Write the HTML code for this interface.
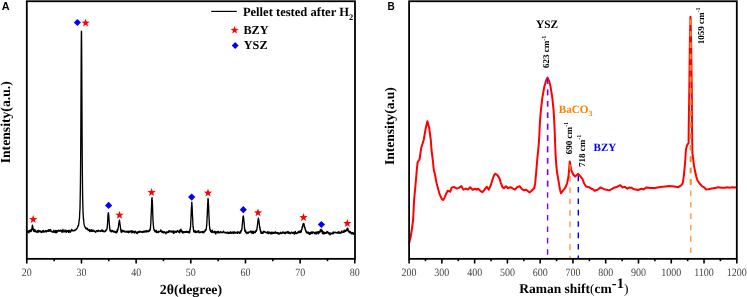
<!DOCTYPE html>
<html><head><meta charset="utf-8"><style>
html,body{margin:0;padding:0;background:#fff;}
body{width:747px;height:297px;overflow:hidden;}
svg{display:block;will-change:transform;}
.serif{font-family:"Liberation Serif",serif;text-rendering:geometricPrecision;}
.sans{font-family:"Liberation Sans",sans-serif;}
</style></head><body>
<svg width="747" height="297" viewBox="0 0 747 297">
<rect width="747" height="297" fill="#fff"/>
<!-- Panel letters -->
<text class="sans" x="1.8" y="9.7" font-size="10.9" font-weight="bold">A</text>
<text class="sans" x="387.6" y="9.8" font-size="10.0" font-weight="bold">B</text>

<!-- ===== Panel A ===== -->
<path d="M27.40 231.34 L27.70 231.24 L28.00 232.25 L28.30 231.92 L28.60 231.07 L28.90 232.85 L29.20 230.47 L29.50 231.65 L29.62 230.93 L29.74 231.14 L29.86 231.46 L29.98 231.15 L30.10 231.39 L30.22 230.08 L30.34 230.07 L30.46 231.33 L30.58 230.36 L30.70 230.30 L30.82 230.00 L30.94 231.59 L31.06 231.21 L31.18 231.54 L31.30 229.95 L31.42 230.29 L31.54 229.31 L31.66 230.07 L31.78 230.07 L31.90 228.01 L32.02 228.84 L32.14 227.85 L32.26 226.57 L32.38 225.08 L32.50 225.90 L32.62 227.08 L32.74 226.57 L32.86 226.82 L32.98 228.05 L33.10 228.68 L33.22 229.89 L33.34 228.85 L33.46 230.52 L33.58 231.02 L33.70 231.20 L33.82 230.35 L33.94 230.11 L34.06 231.24 L34.18 230.76 L34.30 230.81 L34.42 231.63 L34.54 230.65 L34.66 229.46 L34.78 230.64 L34.90 229.78 L35.02 231.41 L35.14 231.14 L35.26 230.60 L35.38 230.99 L35.50 231.51 L35.62 231.08 L35.92 231.88 L36.22 231.12 L36.52 231.85 L36.82 232.20 L37.12 232.35 L37.42 231.05 L37.72 232.06 L38.02 230.47 L38.32 230.91 L38.62 230.35 L38.92 232.14 L39.22 230.73 L39.52 231.42 L39.82 231.28 L40.12 231.37 L40.42 231.07 L40.72 231.60 L41.02 232.57 L41.32 231.55 L41.62 231.88 L41.92 232.20 L42.22 231.46 L42.52 230.78 L42.82 231.16 L43.12 232.10 L43.42 230.43 L43.72 231.02 L44.02 231.94 L44.32 231.82 L44.62 231.36 L44.92 231.85 L45.22 231.47 L45.52 230.68 L45.82 230.45 L46.12 231.01 L46.42 231.94 L46.72 231.03 L47.02 230.82 L47.32 230.89 L47.62 230.42 L47.92 231.26 L48.22 230.55 L48.52 231.38 L48.82 229.65 L49.12 231.17 L49.42 230.49 L49.72 229.61 L50.02 231.13 L50.32 230.66 L50.62 229.63 L50.92 230.57 L51.22 231.40 L51.52 231.09 L51.82 231.96 L52.12 232.02 L52.42 231.95 L52.72 231.73 L53.02 232.31 L53.32 231.89 L53.62 231.75 L53.92 230.21 L54.22 231.99 L54.52 232.24 L54.82 231.27 L55.12 231.17 L55.42 232.62 L55.72 230.40 L56.02 231.72 L56.32 232.78 L56.62 230.65 L56.92 231.51 L57.22 232.11 L57.52 230.79 L57.82 231.08 L58.12 231.22 L58.42 230.13 L58.72 230.62 L59.02 230.84 L59.32 231.16 L59.62 230.63 L59.92 230.53 L60.22 230.07 L60.52 230.51 L60.82 231.30 L61.12 230.87 L61.42 230.34 L61.72 230.39 L62.02 232.53 L62.32 231.64 L62.62 231.35 L62.92 229.43 L63.22 231.38 L63.52 231.31 L63.82 232.05 L64.12 231.32 L64.42 231.06 L64.72 231.45 L65.02 230.00 L65.32 231.82 L65.62 231.43 L65.92 230.85 L66.22 232.05 L66.52 232.32 L66.82 230.36 L67.12 230.77 L67.42 231.32 L67.72 231.22 L68.02 230.84 L68.32 230.52 L68.62 232.39 L68.92 231.75 L69.22 230.42 L69.52 230.34 L69.82 232.18 L70.12 231.72 L70.42 232.14 L70.72 231.44 L71.02 230.34 L71.32 230.93 L71.62 229.38 L71.92 230.13 L72.22 230.52 L72.52 230.87 L72.82 230.12 L73.12 230.47 L73.42 230.80 L73.72 230.73 L74.02 230.85 L74.32 230.51 L74.62 230.09 L74.92 230.64 L75.22 230.06 L75.52 229.38 L75.82 229.32 L76.12 229.46 L76.42 229.09 L76.72 228.89 L77.02 228.38 L77.32 227.98 L77.62 227.20 L77.92 225.78 L78.22 226.00 L78.52 225.37 L78.64 224.50 L78.76 223.55 L78.88 223.28 L79.00 221.69 L79.12 220.27 L79.24 220.44 L79.36 218.67 L79.48 218.28 L79.60 215.52 L79.72 212.57 L79.84 210.99 L79.96 209.36 L80.08 203.98 L80.20 197.89 L80.32 191.04 L80.44 182.40 L80.56 170.23 L80.68 154.68 L80.80 136.62 L80.92 113.90 L81.04 88.70 L81.16 64.05 L81.28 43.51 L81.40 31.12 L81.52 32.28 L81.64 44.83 L81.76 67.52 L81.88 93.21 L82.00 117.01 L82.12 139.54 L82.24 157.51 L82.36 172.48 L82.48 183.46 L82.60 194.12 L82.72 200.22 L82.84 204.59 L82.96 208.81 L83.08 213.45 L83.20 214.19 L83.32 216.95 L83.44 218.69 L83.56 219.52 L83.68 220.02 L83.80 221.88 L83.92 222.89 L84.04 224.13 L84.16 224.57 L84.28 224.68 L84.40 225.68 L84.52 225.94 L84.82 226.64 L85.12 227.24 L85.42 227.58 L85.72 228.54 L86.02 227.81 L86.32 228.39 L86.62 229.05 L86.92 228.40 L87.22 229.21 L87.52 228.44 L87.82 229.38 L88.12 230.27 L88.42 230.40 L88.72 230.15 L89.02 230.16 L89.32 229.55 L89.62 231.59 L89.92 230.89 L90.22 231.31 L90.52 230.19 L90.82 230.67 L91.12 229.74 L91.42 231.35 L91.72 231.50 L92.02 229.84 L92.32 231.02 L92.62 231.50 L92.92 230.13 L93.22 230.15 L93.52 230.67 L93.82 230.99 L94.12 230.56 L94.42 231.42 L94.72 231.55 L95.02 231.78 L95.32 231.81 L95.62 232.29 L95.92 232.08 L96.22 230.57 L96.52 231.03 L96.82 230.67 L97.12 230.64 L97.42 231.21 L97.72 231.23 L98.02 231.49 L98.32 230.23 L98.62 230.42 L98.92 231.12 L99.22 231.00 L99.52 230.91 L99.82 231.03 L100.12 230.61 L100.42 231.51 L100.72 231.33 L101.02 231.09 L101.32 230.76 L101.62 231.08 L101.92 229.57 L102.22 230.69 L102.52 231.39 L102.82 230.54 L103.12 231.65 L103.42 231.70 L103.72 230.86 L104.02 231.59 L104.32 231.42 L104.62 231.74 L104.92 231.68 L105.22 231.13 L105.52 230.46 L105.64 230.80 L105.76 230.76 L105.88 231.14 L106.00 230.77 L106.12 230.11 L106.24 229.65 L106.36 230.13 L106.48 229.75 L106.60 229.31 L106.72 229.60 L106.84 228.95 L106.96 228.74 L107.08 228.24 L107.20 226.71 L107.32 227.16 L107.44 224.14 L107.56 223.33 L107.68 220.89 L107.80 219.52 L107.92 215.46 L108.04 214.60 L108.16 213.67 L108.28 212.86 L108.40 212.80 L108.52 213.91 L108.64 213.73 L108.76 215.84 L108.88 217.39 L109.00 219.50 L109.12 221.23 L109.24 222.71 L109.36 224.80 L109.48 225.31 L109.60 227.89 L109.72 227.56 L109.84 229.10 L109.96 230.82 L110.08 229.83 L110.20 230.27 L110.32 231.16 L110.44 230.62 L110.56 230.21 L110.68 230.91 L110.80 231.15 L110.92 231.25 L111.04 230.38 L111.16 231.90 L111.28 231.84 L111.40 230.85 L111.52 230.99 L111.82 230.54 L112.12 231.67 L112.42 230.51 L112.72 231.45 L113.02 230.86 L113.32 230.84 L113.62 231.78 L113.92 232.24 L114.22 231.51 L114.52 231.18 L114.82 232.13 L115.12 231.68 L115.42 231.95 L115.72 232.72 L116.02 232.52 L116.32 231.32 L116.62 232.77 L116.74 231.31 L116.86 231.68 L116.98 230.71 L117.10 230.95 L117.22 229.78 L117.34 231.75 L117.46 231.30 L117.58 229.52 L117.70 229.07 L117.82 228.64 L117.94 229.89 L118.06 228.43 L118.18 228.13 L118.30 227.33 L118.42 226.68 L118.54 225.24 L118.66 224.96 L118.78 223.09 L118.90 222.92 L119.02 222.24 L119.14 221.59 L119.26 220.66 L119.38 220.07 L119.50 220.86 L119.62 220.95 L119.74 222.94 L119.86 223.40 L119.98 223.91 L120.10 224.74 L120.22 225.61 L120.34 226.41 L120.46 227.61 L120.58 228.73 L120.70 229.47 L120.82 230.01 L120.94 231.33 L121.06 229.97 L121.18 230.64 L121.30 232.49 L121.42 229.84 L121.54 230.75 L121.66 231.25 L121.78 231.31 L121.90 231.51 L122.02 231.17 L122.14 231.55 L122.26 231.37 L122.38 231.81 L122.50 230.22 L122.80 230.83 L123.10 231.36 L123.40 230.73 L123.70 230.71 L124.00 231.70 L124.30 231.02 L124.60 231.87 L124.90 232.02 L125.20 231.83 L125.50 232.03 L125.80 231.74 L126.10 231.01 L126.40 231.81 L126.70 232.08 L127.00 231.47 L127.30 231.70 L127.60 232.18 L127.90 231.18 L128.20 232.04 L128.50 232.70 L128.80 231.18 L129.10 231.54 L129.40 231.29 L129.70 232.23 L130.00 231.43 L130.30 231.90 L130.60 231.07 L130.90 231.60 L131.20 231.73 L131.50 230.79 L131.80 232.84 L132.10 232.60 L132.40 231.00 L132.70 232.49 L133.00 231.96 L133.30 232.30 L133.60 232.25 L133.90 231.12 L134.20 231.90 L134.50 232.94 L134.80 231.72 L135.10 231.46 L135.40 231.28 L135.70 231.38 L136.00 232.33 L136.30 233.17 L136.60 232.44 L136.90 232.35 L137.20 233.57 L137.50 231.95 L137.80 231.88 L138.10 232.60 L138.40 232.56 L138.70 231.57 L139.00 231.42 L139.30 232.24 L139.60 232.15 L139.90 231.16 L140.20 231.80 L140.50 231.58 L140.80 232.17 L141.10 231.81 L141.40 231.81 L141.70 231.64 L142.00 232.47 L142.30 232.59 L142.60 231.46 L142.90 232.11 L143.20 231.07 L143.50 231.49 L143.80 231.81 L144.10 232.25 L144.40 231.20 L144.70 231.48 L145.00 231.73 L145.30 230.80 L145.60 231.80 L145.90 231.47 L146.20 232.07 L146.50 231.08 L146.80 230.48 L147.10 231.59 L147.40 231.62 L147.70 231.02 L148.00 231.76 L148.30 231.00 L148.60 230.72 L148.90 231.25 L149.20 229.87 L149.32 230.33 L149.44 230.63 L149.56 231.04 L149.68 230.29 L149.80 230.40 L149.92 229.58 L150.04 229.84 L150.16 230.21 L150.28 228.21 L150.40 229.25 L150.52 226.41 L150.64 225.47 L150.76 223.88 L150.88 222.32 L151.00 218.50 L151.12 215.13 L151.24 213.59 L151.36 210.32 L151.48 206.79 L151.60 204.74 L151.72 200.48 L151.84 198.47 L151.96 197.88 L152.08 197.74 L152.20 199.88 L152.32 200.46 L152.44 203.95 L152.56 205.44 L152.68 211.42 L152.80 214.02 L152.92 217.86 L153.04 221.32 L153.16 222.35 L153.28 224.13 L153.40 225.53 L153.52 226.55 L153.64 227.61 L153.76 229.08 L153.88 229.25 L154.00 229.66 L154.12 229.82 L154.24 230.70 L154.36 230.63 L154.48 230.39 L154.60 230.99 L154.72 230.60 L154.84 230.09 L154.96 231.73 L155.08 231.21 L155.38 230.51 L155.68 231.85 L155.98 231.51 L156.28 230.52 L156.58 232.57 L156.88 231.94 L157.18 232.41 L157.48 232.12 L157.78 232.04 L158.08 231.24 L158.38 232.60 L158.68 231.88 L158.98 231.53 L159.28 231.75 L159.58 231.43 L159.88 231.63 L160.18 230.96 L160.48 231.20 L160.78 229.97 L161.08 231.04 L161.38 231.74 L161.68 232.17 L161.98 231.19 L162.28 231.43 L162.58 232.54 L162.88 231.49 L163.18 232.22 L163.48 232.88 L163.78 231.99 L164.08 232.79 L164.38 231.70 L164.68 232.32 L164.98 232.21 L165.28 232.39 L165.58 233.07 L165.88 233.89 L166.18 232.06 L166.48 232.07 L166.78 232.67 L167.08 231.70 L167.38 232.59 L167.68 232.59 L167.98 232.04 L168.28 232.40 L168.58 231.02 L168.88 232.28 L169.18 230.77 L169.48 231.15 L169.78 231.11 L170.08 231.10 L170.38 231.82 L170.68 231.33 L170.98 231.01 L171.28 231.54 L171.58 232.13 L171.88 231.16 L172.18 231.45 L172.48 232.13 L172.78 231.70 L173.08 230.92 L173.38 233.34 L173.68 233.32 L173.98 230.95 L174.28 232.08 L174.58 232.29 L174.88 232.57 L175.18 232.33 L175.48 231.71 L175.78 231.18 L176.08 231.82 L176.38 232.36 L176.68 231.06 L176.98 231.07 L177.28 231.65 L177.58 230.47 L177.88 231.45 L178.18 231.39 L178.30 231.95 L178.42 231.29 L178.54 231.22 L178.66 231.53 L178.78 231.76 L178.90 231.41 L179.02 231.82 L179.14 232.26 L179.26 232.51 L179.38 232.79 L179.50 231.26 L179.62 231.42 L179.74 230.12 L179.86 232.67 L179.98 231.00 L180.10 231.27 L180.22 231.45 L180.34 230.17 L180.46 231.12 L180.58 230.69 L180.70 229.50 L180.82 230.69 L180.94 231.19 L181.06 229.35 L181.18 231.00 L181.30 230.73 L181.42 231.00 L181.54 231.12 L181.66 231.79 L181.78 231.03 L181.90 231.85 L182.02 231.22 L182.14 232.02 L182.26 231.20 L182.38 231.72 L182.50 232.90 L182.62 232.19 L182.74 231.88 L182.86 231.32 L182.98 231.56 L183.10 232.16 L183.22 232.62 L183.34 232.31 L183.46 232.37 L183.58 232.02 L183.70 232.85 L183.82 231.79 L183.94 231.68 L184.06 232.54 L184.36 232.05 L184.66 231.85 L184.96 231.67 L185.26 231.87 L185.56 232.39 L185.86 232.22 L186.16 231.27 L186.46 232.25 L186.76 232.08 L187.06 231.36 L187.36 232.40 L187.66 231.73 L187.96 231.65 L188.26 232.31 L188.56 232.60 L188.86 231.34 L188.98 231.98 L189.10 231.15 L189.22 233.00 L189.34 231.25 L189.46 232.17 L189.58 230.94 L189.70 231.64 L189.82 232.25 L189.94 229.07 L190.06 229.87 L190.18 229.79 L190.30 228.58 L190.42 227.14 L190.54 227.44 L190.66 224.48 L190.78 221.39 L190.90 220.51 L191.02 216.29 L191.14 215.15 L191.26 211.17 L191.38 208.78 L191.50 206.98 L191.62 204.42 L191.74 202.49 L191.86 202.29 L191.98 205.00 L192.10 206.58 L192.22 208.10 L192.34 211.91 L192.46 214.60 L192.58 217.54 L192.70 218.44 L192.82 221.98 L192.94 224.74 L193.06 226.33 L193.18 227.79 L193.30 226.86 L193.42 229.26 L193.54 230.08 L193.66 231.78 L193.78 230.03 L193.90 230.66 L194.02 231.07 L194.14 231.73 L194.26 231.05 L194.38 232.11 L194.50 231.03 L194.62 231.73 L194.74 231.31 L194.86 231.78 L195.16 231.37 L195.46 230.92 L195.76 232.60 L196.06 232.15 L196.36 231.57 L196.66 231.95 L196.96 232.34 L197.26 231.07 L197.56 231.50 L197.86 231.79 L198.16 231.83 L198.46 231.47 L198.76 230.57 L199.06 232.73 L199.36 232.34 L199.66 232.30 L199.96 232.28 L200.26 232.60 L200.56 232.17 L200.86 231.79 L201.16 231.94 L201.46 231.99 L201.76 231.96 L202.06 231.59 L202.36 232.63 L202.66 231.42 L202.96 232.55 L203.26 231.49 L203.56 232.24 L203.86 232.78 L204.16 231.93 L204.46 231.16 L204.76 231.39 L205.06 231.17 L205.36 229.72 L205.48 230.23 L205.60 230.52 L205.72 229.92 L205.84 229.99 L205.96 230.06 L206.08 229.73 L206.20 229.37 L206.32 228.59 L206.44 227.30 L206.56 226.47 L206.68 225.06 L206.80 223.48 L206.92 221.69 L207.04 218.57 L207.16 216.91 L207.28 214.35 L207.40 210.86 L207.52 208.47 L207.64 205.95 L207.76 203.01 L207.88 202.37 L208.00 198.34 L208.12 199.49 L208.24 199.19 L208.36 202.43 L208.48 205.69 L208.60 205.32 L208.72 209.87 L208.84 213.12 L208.96 215.56 L209.08 218.81 L209.20 219.59 L209.32 223.59 L209.44 225.13 L209.56 226.43 L209.68 227.29 L209.80 229.00 L209.92 229.10 L210.04 230.09 L210.16 230.02 L210.28 229.25 L210.40 230.77 L210.52 231.05 L210.64 231.48 L210.76 230.57 L210.88 231.12 L211.00 231.54 L211.12 231.27 L211.42 231.94 L211.72 232.36 L212.02 230.59 L212.32 230.14 L212.62 231.95 L212.92 232.49 L213.22 232.25 L213.52 232.31 L213.82 231.57 L214.12 231.61 L214.42 232.66 L214.72 231.66 L215.02 231.20 L215.32 231.77 L215.62 233.95 L215.92 233.68 L216.22 232.05 L216.52 231.92 L216.82 232.38 L217.12 231.68 L217.42 232.80 L217.72 231.85 L218.02 231.15 L218.32 232.75 L218.62 231.77 L218.92 232.42 L219.22 232.43 L219.52 232.41 L219.82 232.95 L220.12 232.42 L220.42 231.68 L220.72 231.41 L221.02 231.92 L221.32 232.17 L221.62 232.56 L221.92 232.56 L222.22 232.82 L222.52 232.53 L222.82 231.94 L223.12 231.96 L223.42 231.08 L223.72 232.22 L224.02 232.58 L224.32 232.63 L224.62 232.27 L224.92 232.27 L225.22 232.96 L225.52 232.44 L225.82 232.90 L226.12 232.83 L226.42 232.62 L226.72 233.30 L227.02 232.19 L227.32 232.34 L227.62 232.09 L227.92 232.11 L228.22 233.51 L228.52 233.61 L228.82 232.54 L229.12 232.84 L229.42 233.18 L229.72 232.93 L230.02 233.15 L230.32 231.72 L230.62 232.15 L230.92 232.86 L231.22 233.50 L231.52 232.76 L231.82 232.24 L232.12 232.53 L232.42 232.26 L232.72 232.04 L233.02 233.36 L233.32 231.99 L233.62 232.28 L233.92 233.47 L234.22 232.87 L234.52 232.37 L234.82 231.81 L235.12 232.43 L235.42 233.17 L235.72 232.58 L236.02 232.98 L236.32 232.35 L236.62 232.67 L236.92 232.31 L237.22 232.75 L237.52 233.34 L237.82 231.76 L238.12 232.59 L238.42 232.70 L238.72 232.14 L239.02 232.22 L239.32 232.79 L239.62 233.42 L239.92 232.49 L240.22 232.18 L240.52 230.90 L240.64 232.92 L240.76 231.72 L240.88 231.55 L241.00 230.77 L241.12 231.25 L241.24 230.42 L241.36 230.86 L241.48 230.77 L241.60 230.08 L241.72 229.70 L241.84 228.36 L241.96 228.93 L242.08 226.75 L242.20 224.99 L242.32 224.76 L242.44 223.08 L242.56 221.51 L242.68 220.44 L242.80 219.40 L242.92 217.23 L243.04 216.80 L243.16 217.03 L243.28 216.30 L243.40 216.00 L243.52 216.82 L243.64 217.70 L243.76 219.05 L243.88 220.98 L244.00 222.02 L244.12 222.13 L244.24 224.98 L244.36 225.77 L244.48 227.85 L244.60 228.10 L244.72 229.41 L244.84 231.32 L244.96 229.95 L245.08 230.36 L245.20 230.54 L245.32 230.22 L245.44 230.74 L245.56 232.25 L245.68 231.78 L245.80 231.15 L245.92 231.46 L246.04 232.78 L246.16 231.95 L246.28 232.20 L246.40 232.61 L246.70 233.20 L247.00 233.51 L247.30 232.91 L247.60 232.31 L247.90 232.26 L248.20 233.19 L248.50 232.94 L248.80 231.86 L249.10 232.28 L249.40 232.14 L249.70 231.96 L250.00 231.59 L250.30 231.16 L250.60 231.71 L250.90 231.17 L251.20 232.89 L251.50 232.54 L251.80 231.56 L252.10 233.16 L252.40 232.85 L252.70 231.16 L253.00 233.39 L253.30 232.76 L253.60 233.49 L253.90 231.48 L254.20 232.50 L254.50 232.39 L254.80 232.20 L255.10 232.10 L255.40 232.51 L255.52 230.92 L255.64 231.00 L255.76 230.81 L255.88 231.20 L256.00 231.02 L256.12 231.47 L256.24 231.22 L256.36 230.83 L256.48 230.10 L256.60 229.87 L256.72 230.25 L256.84 229.59 L256.96 228.55 L257.08 227.56 L257.20 227.86 L257.32 225.67 L257.44 225.45 L257.56 224.75 L257.68 222.88 L257.80 222.55 L257.92 220.47 L258.04 220.93 L258.16 219.75 L258.28 218.22 L258.40 219.70 L258.52 219.48 L258.64 218.90 L258.76 220.79 L258.88 220.39 L259.00 221.60 L259.12 222.84 L259.24 223.48 L259.36 224.83 L259.48 225.29 L259.60 226.91 L259.72 227.32 L259.84 228.17 L259.96 227.02 L260.08 229.96 L260.20 229.83 L260.32 229.21 L260.44 230.72 L260.56 231.27 L260.68 231.91 L260.80 230.85 L260.92 232.62 L261.04 231.76 L261.16 233.43 L261.28 232.03 L261.40 232.63 L261.70 232.24 L262.00 231.99 L262.30 233.24 L262.60 233.04 L262.90 233.33 L263.20 232.82 L263.50 231.85 L263.80 231.09 L264.10 231.64 L264.40 231.66 L264.70 231.62 L265.00 232.50 L265.30 232.38 L265.60 232.06 L265.90 232.36 L266.20 232.24 L266.50 232.54 L266.80 232.94 L267.10 233.15 L267.40 232.24 L267.70 231.83 L268.00 233.67 L268.30 232.92 L268.60 233.54 L268.90 231.92 L269.20 232.74 L269.50 232.99 L269.80 232.14 L270.10 232.71 L270.40 233.44 L270.70 233.64 L271.00 233.94 L271.30 232.46 L271.60 232.12 L271.90 233.27 L272.20 233.50 L272.50 233.03 L272.80 232.10 L273.10 233.33 L273.40 233.31 L273.70 233.14 L274.00 232.50 L274.30 232.96 L274.60 233.25 L274.90 232.43 L275.20 231.65 L275.50 232.95 L275.80 233.03 L276.10 232.74 L276.40 233.27 L276.70 232.39 L277.00 232.69 L277.30 232.56 L277.60 233.09 L277.90 233.71 L278.20 232.62 L278.50 234.03 L278.80 233.73 L279.10 233.32 L279.40 233.22 L279.70 233.95 L280.00 232.81 L280.30 232.81 L280.60 232.20 L280.90 233.08 L281.20 233.57 L281.50 233.05 L281.80 232.94 L282.10 232.55 L282.40 232.80 L282.70 231.87 L283.00 233.38 L283.30 232.53 L283.60 232.14 L283.90 232.37 L284.20 232.35 L284.50 233.37 L284.80 233.51 L285.10 232.08 L285.40 233.47 L285.70 233.46 L286.00 232.60 L286.30 232.02 L286.60 232.44 L286.90 232.48 L287.20 233.03 L287.50 232.59 L287.80 231.55 L288.10 232.91 L288.40 231.89 L288.70 233.39 L289.00 232.16 L289.30 232.51 L289.60 232.46 L289.90 232.68 L290.20 233.79 L290.50 233.52 L290.80 233.36 L291.10 233.18 L291.40 232.05 L291.70 232.65 L292.00 232.62 L292.30 232.44 L292.60 233.41 L292.90 232.73 L293.20 232.82 L293.50 232.70 L293.80 232.16 L294.10 233.77 L294.40 234.12 L294.70 233.34 L295.00 232.55 L295.30 231.42 L295.60 233.06 L295.90 233.59 L296.20 232.97 L296.50 233.30 L296.80 233.58 L297.10 233.32 L297.40 232.33 L297.70 233.17 L298.00 232.94 L298.30 231.54 L298.60 232.19 L298.90 231.55 L299.20 232.29 L299.50 232.65 L299.80 231.57 L300.10 230.85 L300.40 232.67 L300.70 231.83 L300.82 232.33 L300.94 230.47 L301.06 231.69 L301.18 232.06 L301.30 231.75 L301.42 230.12 L301.54 230.07 L301.66 229.45 L301.78 229.74 L301.90 229.33 L302.02 228.30 L302.14 226.96 L302.26 227.73 L302.38 226.51 L302.50 226.66 L302.62 225.95 L302.74 226.30 L302.86 225.57 L302.98 224.22 L303.10 224.38 L303.22 224.97 L303.34 223.43 L303.46 223.95 L303.58 224.44 L303.70 224.62 L303.82 224.41 L303.94 223.62 L304.06 224.03 L304.18 225.33 L304.30 225.86 L304.42 227.64 L304.54 226.08 L304.66 227.78 L304.78 228.05 L304.90 227.06 L305.02 228.03 L305.14 229.06 L305.26 229.07 L305.38 229.65 L305.50 230.36 L305.62 229.90 L305.74 230.94 L305.86 230.52 L305.98 230.78 L306.10 231.65 L306.22 231.18 L306.34 231.86 L306.46 232.80 L306.58 231.99 L306.88 232.14 L307.18 232.85 L307.48 232.32 L307.78 233.30 L308.08 231.98 L308.38 233.23 L308.68 232.66 L308.98 232.59 L309.28 234.23 L309.58 232.76 L309.88 234.41 L310.18 233.66 L310.48 233.92 L310.78 232.24 L311.08 233.33 L311.38 233.26 L311.68 232.09 L311.98 231.86 L312.28 233.48 L312.58 232.19 L312.88 231.91 L313.18 231.87 L313.48 232.59 L313.78 232.60 L314.08 232.59 L314.38 233.59 L314.68 232.44 L314.98 232.99 L315.28 233.65 L315.58 232.25 L315.88 233.55 L316.18 234.05 L316.48 232.15 L316.78 232.31 L317.08 232.34 L317.38 231.86 L317.68 233.23 L317.98 231.83 L318.28 233.20 L318.40 233.75 L318.52 231.87 L318.64 232.61 L318.76 231.61 L318.88 233.17 L319.00 232.19 L319.12 232.39 L319.24 232.48 L319.36 232.67 L319.48 232.00 L319.60 232.07 L319.72 231.58 L319.84 231.80 L319.96 230.84 L320.08 231.38 L320.20 229.97 L320.32 230.63 L320.44 231.87 L320.56 230.59 L320.68 229.63 L320.80 230.43 L320.92 229.62 L321.04 229.19 L321.16 229.77 L321.28 230.73 L321.40 230.63 L321.52 230.49 L321.64 230.16 L321.76 230.24 L321.88 231.89 L322.00 231.40 L322.12 230.90 L322.24 230.41 L322.36 231.04 L322.48 233.52 L322.60 231.50 L322.72 232.28 L322.84 232.58 L322.96 232.46 L323.08 232.48 L323.20 231.91 L323.32 232.18 L323.44 233.88 L323.56 232.47 L323.68 233.48 L323.80 232.00 L323.92 232.89 L324.04 233.24 L324.34 233.71 L324.64 232.42 L324.94 233.44 L325.24 233.31 L325.54 232.62 L325.84 233.34 L326.14 232.49 L326.44 232.52 L326.74 232.95 L327.04 231.29 L327.34 232.82 L327.64 232.25 L327.94 231.93 L328.24 232.67 L328.54 233.54 L328.84 233.00 L329.14 234.16 L329.44 232.86 L329.74 232.93 L330.04 234.77 L330.34 233.97 L330.64 234.19 L330.94 233.02 L331.24 233.89 L331.54 233.46 L331.84 233.58 L332.14 233.13 L332.44 233.79 L332.74 232.63 L333.04 232.40 L333.34 232.04 L333.64 233.58 L333.94 232.39 L334.24 232.22 L334.54 232.31 L334.84 232.63 L335.14 232.15 L335.44 232.77 L335.74 232.59 L336.04 232.65 L336.34 232.40 L336.64 232.99 L336.94 232.68 L337.24 233.02 L337.54 233.09 L337.84 233.14 L338.14 231.62 L338.44 232.62 L338.74 232.46 L339.04 233.41 L339.34 232.00 L339.64 232.52 L339.94 232.77 L340.24 232.62 L340.54 233.27 L340.84 232.25 L341.14 232.93 L341.44 231.30 L341.74 230.91 L342.04 232.56 L342.34 232.13 L342.64 232.19 L342.94 231.96 L343.24 232.15 L343.54 231.06 L343.84 232.25 L343.96 231.31 L344.08 232.15 L344.20 231.54 L344.32 230.22 L344.44 230.54 L344.56 231.90 L344.68 231.04 L344.80 230.79 L344.92 231.07 L345.04 230.57 L345.16 230.39 L345.28 230.68 L345.40 230.60 L345.52 231.32 L345.64 230.35 L345.76 231.36 L345.88 231.23 L346.00 231.11 L346.12 230.58 L346.24 229.89 L346.36 229.78 L346.48 229.52 L346.60 229.08 L346.72 229.42 L346.84 229.02 L346.96 230.36 L347.08 229.68 L347.20 229.10 L347.32 228.24 L347.44 229.38 L347.56 229.21 L347.68 228.87 L347.80 228.90 L347.92 228.31 L348.04 230.10 L348.16 229.87 L348.28 231.62 L348.40 230.21 L348.52 230.30 L348.64 231.41 L348.76 230.79 L348.88 230.96 L349.00 230.79 L349.12 230.80 L349.24 232.21 L349.36 232.05 L349.48 232.62 L349.60 231.51 L349.72 231.86 L349.84 231.44 L350.14 232.82 L350.44 231.63 L350.74 233.01 L351.04 233.50 L351.34 233.84 L351.64 232.55 L351.94 233.88 L352.24 232.85 L352.54 232.85 L352.84 232.54 L353.14 234.04 L353.44 234.35 L353.74 233.01 L354.04 232.92" fill="none" stroke="#000" stroke-width="1.35" stroke-linejoin="round"/>
<polygon points="33.20,215.10 34.26,217.94 37.29,218.07 34.92,219.96 35.73,222.88 33.20,221.21 30.67,222.88 31.48,219.96 29.11,218.07 32.14,217.94" fill="#ff0000"/><polygon points="77.40,18.90 81.00,22.50 77.40,26.10 73.80,22.50" fill="#0000ff"/><polygon points="85.60,18.70 86.66,21.54 89.69,21.67 87.32,23.56 88.13,26.48 85.60,24.81 83.07,26.48 83.88,23.56 81.51,21.67 84.54,21.54" fill="#ff0000"/><polygon points="108.60,201.80 112.20,205.40 108.60,209.00 105.00,205.40" fill="#0000ff"/><polygon points="119.50,210.90 120.56,213.74 123.59,213.87 121.22,215.76 122.03,218.68 119.50,217.01 116.97,218.68 117.78,215.76 115.41,213.87 118.44,213.74" fill="#ff0000"/><polygon points="151.60,188.10 152.66,190.94 155.69,191.07 153.32,192.96 154.13,195.88 151.60,194.21 149.07,195.88 149.88,192.96 147.51,191.07 150.54,190.94" fill="#ff0000"/><polygon points="191.70,193.50 195.30,197.10 191.70,200.70 188.10,197.10" fill="#0000ff"/><polygon points="208.00,188.70 209.06,191.54 212.09,191.67 209.72,193.56 210.53,196.48 208.00,194.81 205.47,196.48 206.28,193.56 203.91,191.67 206.94,191.54" fill="#ff0000"/><polygon points="243.30,206.10 246.90,209.70 243.30,213.30 239.70,209.70" fill="#0000ff"/><polygon points="258.00,208.50 259.06,211.34 262.09,211.47 259.72,213.36 260.53,216.28 258.00,214.61 255.47,216.28 256.28,213.36 253.91,211.47 256.94,211.34" fill="#ff0000"/><polygon points="303.50,213.10 304.56,215.94 307.59,216.07 305.22,217.96 306.03,220.88 303.50,219.21 300.97,220.88 301.78,217.96 299.41,216.07 302.44,215.94" fill="#ff0000"/><polygon points="321.40,220.90 325.00,224.50 321.40,228.10 317.80,224.50" fill="#0000ff"/><polygon points="347.30,219.10 348.36,221.94 351.39,222.07 349.02,223.96 349.83,226.88 347.30,225.21 344.77,226.88 345.58,223.96 343.21,222.07 346.24,221.94" fill="#ff0000"/>
<g stroke="#000" stroke-width="1.8" fill="none">
<rect x="26.8" y="1.25" width="328.2" height="257.6"/>
</g>
<g stroke="#000" stroke-width="1.6"><line x1="26.80" y1="258.8" x2="26.80" y2="263.50"/><line x1="54.13" y1="258.8" x2="54.13" y2="261.20"/><line x1="81.47" y1="258.8" x2="81.47" y2="263.50"/><line x1="108.80" y1="258.8" x2="108.80" y2="261.20"/><line x1="136.13" y1="258.8" x2="136.13" y2="263.50"/><line x1="163.47" y1="258.8" x2="163.47" y2="261.20"/><line x1="190.80" y1="258.8" x2="190.80" y2="263.50"/><line x1="218.13" y1="258.8" x2="218.13" y2="261.20"/><line x1="245.47" y1="258.8" x2="245.47" y2="263.50"/><line x1="272.80" y1="258.8" x2="272.80" y2="261.20"/><line x1="300.13" y1="258.8" x2="300.13" y2="263.50"/><line x1="327.47" y1="258.8" x2="327.47" y2="261.20"/><line x1="354.80" y1="258.8" x2="354.80" y2="263.50"/></g>
<g class="serif" font-size="10" fill="#474747"><text transform="translate(26.80,275.7) scale(1,1.12)" text-anchor="middle">20</text><text transform="translate(81.47,275.7) scale(1,1.12)" text-anchor="middle">30</text><text transform="translate(136.13,275.7) scale(1,1.12)" text-anchor="middle">40</text><text transform="translate(190.80,275.7) scale(1,1.12)" text-anchor="middle">50</text><text transform="translate(245.47,275.7) scale(1,1.12)" text-anchor="middle">60</text><text transform="translate(300.13,275.7) scale(1,1.12)" text-anchor="middle">70</text><text transform="translate(354.80,275.7) scale(1,1.12)" text-anchor="middle">80</text></g>
<text class="serif" font-weight="bold" font-size="13.85" x="190.9" y="293.7" text-anchor="middle">2θ(degree)</text>
<text class="serif" font-weight="bold" font-size="13.7" transform="translate(10.4,122.3) rotate(-90)" text-anchor="middle">Intensity(a.u.)</text>
<!-- legend -->
<line x1="211.2" y1="11.4" x2="236.8" y2="11.4" stroke="#000" stroke-width="1.2"/>
<text class="serif" font-weight="bold" font-size="12.55" x="242.9" y="16">Pellet tested after H<tspan font-size="8.4" dy="3.9">2</tspan></text>
<polygon points="234.60,26.10 235.61,28.81 238.50,28.93 236.24,30.73 237.01,33.52 234.60,31.92 232.19,33.52 232.96,30.73 230.70,28.93 233.59,28.81" fill="#ff0000"/>
<text class="serif" font-weight="bold" font-size="12.2" x="243.4" y="33.9">BZY</text>
<polygon points="235.20,42.10 238.60,45.50 235.20,48.90 231.80,45.50" fill="#0000ff"/>
<text class="serif" font-weight="bold" font-size="12.2" x="243.8" y="49.3">YSZ</text>

<!-- ===== Panel B ===== -->
<g stroke-width="1.4" stroke-dasharray="5.6 5.8">
<line x1="547.6" y1="78.2" x2="547.6" y2="258" stroke="#8000ff"/>
<line x1="570.0" y1="164.5" x2="570.0" y2="258" stroke="#ff9a3c"/>
<line x1="578.3" y1="175.6" x2="578.3" y2="258" stroke="#0000ff"/>
<line x1="690.8" y1="19.5" x2="690.8" y2="258" stroke="#ff9a3c"/>
</g>
<path d="M409.3 242.9 L410.6 237.0 L411.8 230.0 L413.1 220.0 L414.1 200.0 L415.5 185.0 L416.8 170.0 L417.6 162.2 L419.6 159.2 L421.2 148.0 L423.7 140.0 L425.8 128.0 L427.4 121.2 L429.2 128.0 L430.8 140.0 L431.5 150.0 L432.8 160.0 L433.8 170.0 L435.1 175.0 L436.1 181.1 L437.6 187.1 L439.6 194.2 L441.6 198.7 L443.1 200.0 L444.6 197.7 L446.2 193.7 L447.7 190.7 L449.2 191.2 L450.2 191.7 L451.7 187.6 L453.7 186.9 L456.8 188.6 L459.3 187.6 L461.3 186.1 L463.3 189.6 L465.9 188.6 L467.9 189.6 L470.1 187.2 L472.6 189.7 L475.2 188.7 L476.7 189.7 L478.2 188.7 L480.2 190.7 L482.2 192.2 L484.2 190.2 L486.8 186.7 L488.8 189.7 L490.8 185.2 L492.8 178.6 L494.2 175.0 L495.4 173.8 L497.4 175.1 L499.4 178.1 L500.9 183.1 L502.4 187.2 L503.9 188.2 L506.0 186.2 L508.0 188.2 L510.5 187.2 L513.0 188.7 L515.0 189.7 L517.1 187.2 L519.6 186.2 L522.0 189.2 L524.1 190.3 L526.1 189.7 L528.1 191.3 L529.6 192.5 L531.6 190.8 L534.2 188.2 L535.2 183.2 L536.2 172.0 L537.2 160.0 L538.2 150.0 L538.7 145.0 L539.4 134.0 L539.9 122.2 L540.9 110.4 L542.2 98.6 L544.3 86.8 L546.1 80.4 L547.5 77.6 L549.0 80.6 L550.6 86.8 L552.4 98.6 L553.6 110.4 L554.3 122.2 L554.8 134.0 L555.2 145.0 L555.6 155.0 L556.3 165.0 L557.0 172.0 L558.4 180.2 L559.9 189.2 L560.9 193.3 L562.4 191.4 L565.1 188.0 L567.1 183.3 L568.5 176.5 L569.2 168.0 L569.8 161.4 L570.5 166.0 L571.2 169.8 L573.2 174.5 L575.2 176.5 L576.8 175.0 L578.2 173.9 L579.9 175.9 L582.6 179.2 L584.0 183.3 L586.0 186.6 L589.3 187.3 L591.4 188.7 L592.5 189.0 L594.5 190.7 L597.6 189.7 L600.6 187.4 L604.1 189.2 L609.2 190.4 L611.7 189.2 L614.2 187.7 L617.3 186.7 L620.3 185.2 L622.8 187.4 L624.8 186.7 L627.4 188.7 L629.4 187.4 L631.4 187.7 L633.4 189.0 L638.0 190.0 L641.5 188.7 L643.5 189.4 L646.6 187.4 L650.0 188.0 L655.1 188.0 L660.2 187.0 L665.2 186.4 L669.2 186.0 L674.3 186.4 L678.3 187.2 L681.4 185.2 L682.9 182.7 L683.9 175.1 L684.4 170.0 L685.3 160.3 L685.9 149.7 L687.1 145.2 L688.6 142.9 L688.7 130.0 L689.3 90.0 L689.9 40.0 L690.5 16.8 L691.1 40.0 L691.8 90.0 L692.0 130.0 L692.4 152.7 L693.9 164.8 L695.0 171.1 L696.3 176.7 L697.5 180.5 L699.6 183.5 L702.2 186.4 L704.3 187.3 L705.9 189.5 L708.5 189.2 L711.8 188.5 L715.2 188.1 L717.7 187.3 L721.9 187.7 L725.3 187.8 L727.4 187.3 L729.5 187.7 L732.0 187.3 L736.2 187.5" fill="none" stroke="#ff0000" stroke-width="2.0" stroke-linejoin="round" stroke-linecap="round"/>
<g stroke-dasharray="5.6 5.8">
<line x1="570.0" y1="164.5" x2="570.0" y2="176" stroke="#ff8c2a" stroke-width="1.5" opacity="0.9"/>
<line x1="690.6" y1="19.5" x2="690.6" y2="185" stroke="#ff8c2a" stroke-width="2.0"/>
<line x1="547.6" y1="78.2" x2="547.6" y2="190" stroke="#8000ff" stroke-width="1.4" opacity="0.9"/>
</g>
<rect x="409.1" y="1.25" width="327.7" height="257.6" stroke="#000" stroke-width="1.8" fill="none"/>
<g stroke="#000" stroke-width="1.6"><line x1="409.10" y1="258.8" x2="409.10" y2="263.50"/><line x1="425.49" y1="258.8" x2="425.49" y2="261.20"/><line x1="441.87" y1="258.8" x2="441.87" y2="263.50"/><line x1="458.25" y1="258.8" x2="458.25" y2="261.20"/><line x1="474.64" y1="258.8" x2="474.64" y2="263.50"/><line x1="491.02" y1="258.8" x2="491.02" y2="261.20"/><line x1="507.41" y1="258.8" x2="507.41" y2="263.50"/><line x1="523.79" y1="258.8" x2="523.79" y2="261.20"/><line x1="540.18" y1="258.8" x2="540.18" y2="263.50"/><line x1="556.57" y1="258.8" x2="556.57" y2="261.20"/><line x1="572.95" y1="258.8" x2="572.95" y2="263.50"/><line x1="589.34" y1="258.8" x2="589.34" y2="261.20"/><line x1="605.72" y1="258.8" x2="605.72" y2="263.50"/><line x1="622.11" y1="258.8" x2="622.11" y2="261.20"/><line x1="638.49" y1="258.8" x2="638.49" y2="263.50"/><line x1="654.88" y1="258.8" x2="654.88" y2="261.20"/><line x1="671.26" y1="258.8" x2="671.26" y2="263.50"/><line x1="687.64" y1="258.8" x2="687.64" y2="261.20"/><line x1="704.03" y1="258.8" x2="704.03" y2="263.50"/><line x1="720.41" y1="258.8" x2="720.41" y2="261.20"/><line x1="736.80" y1="258.8" x2="736.80" y2="263.50"/></g>
<g class="serif" font-size="10" fill="#474747"><text transform="translate(409.10,275.7) scale(1,1.12)" text-anchor="middle">200</text><text transform="translate(441.87,275.7) scale(1,1.12)" text-anchor="middle">300</text><text transform="translate(474.64,275.7) scale(1,1.12)" text-anchor="middle">400</text><text transform="translate(507.41,275.7) scale(1,1.12)" text-anchor="middle">500</text><text transform="translate(540.18,275.7) scale(1,1.12)" text-anchor="middle">600</text><text transform="translate(572.95,275.7) scale(1,1.12)" text-anchor="middle">700</text><text transform="translate(605.72,275.7) scale(1,1.12)" text-anchor="middle">800</text><text transform="translate(638.49,275.7) scale(1,1.12)" text-anchor="middle">900</text><text transform="translate(671.26,275.7) scale(1,1.12)" text-anchor="middle">1000</text><text transform="translate(704.03,275.7) scale(1,1.12)" text-anchor="middle">1100</text><text transform="translate(736.80,275.7) scale(1,1.12)" text-anchor="middle">1200</text></g>
<text class="serif" font-weight="bold" font-size="13.5" x="519.2" y="292.6">Raman shift<tspan font-weight="normal">(</tspan>cm<tspan dy="-4.8" font-size="14.5">-1</tspan><tspan dy="4.8" font-weight="normal">)</tspan></text>
<text class="serif" font-weight="bold" font-size="13.55" transform="translate(394.3,126.1) rotate(-90)" text-anchor="middle">Intensity(a.u)</text>

<text class="serif" font-weight="bold" font-size="11.3" x="536.1" y="27.9">YSZ</text>
<text class="serif" font-weight="bold" font-size="11.2" x="558.7" y="112.9" fill="#ff8000">BaCO<tspan font-size="8" dy="2.9">3</tspan></text>
<text class="serif" font-weight="bold" font-size="11.1" x="593.5" y="151.0" fill="#0000ff">BZY</text>
<text class="serif" font-weight="bold" font-size="9" transform="translate(549.3,67.9) rotate(-90)">623 cm<tspan font-size="6" dy="-3.5">-1</tspan></text>
<text class="serif" font-weight="bold" font-size="9" transform="translate(571.9,154.3) rotate(-90)">690 cm<tspan font-size="6" dy="-3.5">-1</tspan></text>
<text class="serif" font-weight="bold" font-size="9" transform="translate(584.6,167.1) rotate(-90)">718 cm<tspan font-size="6" dy="-3.5">-1</tspan></text>
<text class="serif" font-weight="bold" font-size="9" transform="translate(703.8,44.2) rotate(-90)">1059 cm<tspan font-size="6" dy="-3.5">-1</tspan></text>
</svg>
</body></html>
